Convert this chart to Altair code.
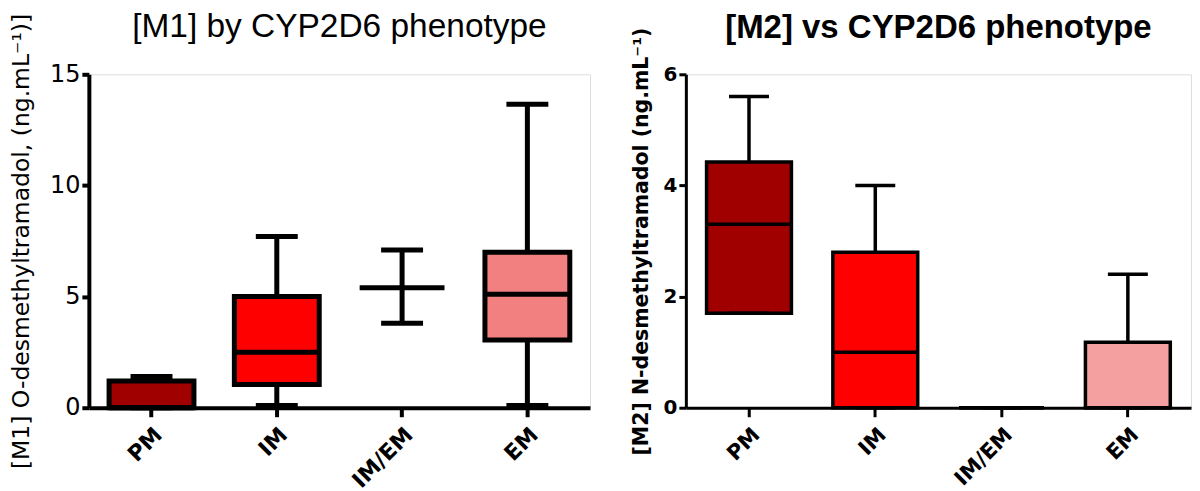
import altair as alt
import pandas as pd

categories = ["PM", "IM", "IM/EM", "EM"]

# [M1] O-desmethyltramadol box-plot statistics
m1_min = [0.0, 0.1, 3.8, 0.1]
m1_q1 = [0.0, 1.05, None, 3.05]
m1_median = [0.0, 2.5, 5.4, 5.1]
m1_q3 = [1.2, 5.0, None, 7.0]
m1_max = [1.4, 7.7, 7.1, 13.65]
m1_colors = ["#a00000", "#ff0000", "#ffffff", "#f28080"]

# [M2] N-desmethyltramadol box-plot statistics
m2_min = [1.7, 0.0, 0.0, 0.0]
m2_q1 = [1.7, 0.0, 0.0, 0.0]
m2_median = [3.3, 1.0, 0.0, 0.0]
m2_q3 = [4.42, 2.8, 0.0, 1.18]
m2_max = [5.6, 4.0, 0.0, 2.4]
m2_colors = ["#a00000", "#ff0000", "#c8c8c8", "#f5a0a0"]


def make_df(lo, q1, med, q3, hi, colors):
    return pd.DataFrame({"cat": categories, "lo": lo, "q1": q1, "med": med,
                         "q3": q3, "hi": hi, "color": colors})


def panel(df, ymax, yvals, title, title_font, title_weight, title_size, title_offset,
          ytitle, ytitle_font, ytitle_weight, ytitle_size, ylab_font, ylab_weight, ylab_size,
          width, height, sw, axw, box_w, cap_w, title_pad, label_pad, xlab_size):
    xenc = alt.X("cat:N", sort=categories,
                 scale=alt.Scale(domain=categories, paddingInner=0.3, paddingOuter=0.15),
                 axis=alt.Axis(title=None, labelAngle=-45, labelFont="DejaVu Sans",
                               labelFontWeight="bold", labelFontSize=xlab_size, labelColor="black",
                               domainColor="black", domainWidth=axw, tickColor="black",
                               tickWidth=axw, tickSize=9, labelPadding=7, grid=False))
    yscale = alt.Scale(domain=[0, ymax], nice=False)
    yaxis = alt.Axis(title=ytitle, values=yvals, format="d", grid=False, domainColor="black",
                     domainWidth=axw, tickColor="black", tickWidth=axw, tickSize=7,
                     labelFont=ylab_font, labelFontWeight=ylab_weight, labelFontSize=ylab_size,
                     labelColor="black", labelPadding=label_pad,
                     titleFont=ytitle_font, titleFontWeight=ytitle_weight,
                     titleFontSize=ytitle_size, titleColor="black", titlePadding=title_pad)
    base = alt.Chart(df).encode(x=xenc)
    whisker = base.mark_rule(color="black", strokeWidth=sw).encode(
        y=alt.Y("lo:Q", scale=yscale, axis=yaxis), y2="hi:Q")
    box = base.transform_filter("datum.q1 != null").mark_bar(
        size=box_w, stroke="black", strokeWidth=sw, opacity=1).encode(
        y=alt.Y("q1:Q", scale=yscale), y2="q3:Q", fill=alt.Fill("color:N", scale=None))
    median = base.mark_tick(size=box_w, thickness=sw, color="black", opacity=1).encode(
        y=alt.Y("med:Q", scale=yscale))
    cap_hi = base.mark_tick(size=cap_w, thickness=sw, color="black", opacity=1).encode(
        y=alt.Y("hi:Q", scale=yscale))
    cap_lo = base.mark_tick(size=cap_w, thickness=sw, color="black", opacity=1).encode(
        y=alt.Y("lo:Q", scale=yscale))
    return alt.layer(whisker, box, median, cap_hi, cap_lo).properties(
        width=width, height=height,
        title=alt.TitleParams(title, font=title_font, fontWeight=title_weight,
                              fontSize=title_size, color="black", anchor="middle",
                              frame="group", offset=title_offset))


left = panel(make_df(m1_min, m1_q1, m1_median, m1_q3, m1_max, m1_colors),
             15, [0, 5, 10, 15], "[M1] by CYP2D6 phenotype", "Liberation Sans", "normal", 33.5, -31,
             "[M1] O-desmethyltramadol, (ng.mL⁻¹)]", "DejaVu Sans", "normal", 23.5,
             "DejaVu Sans", "normal", 24,
             502, 334, 5, 4, 85, 42, 16, 2, 22)

right = panel(make_df(m2_min, m2_q1, m2_median, m2_q3, m2_max, m2_colors),
              6, [0, 2, 4, 6], "[M2] vs CYP2D6 phenotype", "Liberation Sans", "bold", 33, -18,
              "[M2] N-desmethyltramadol (ng.mL⁻¹)", "DejaVu Sans", "bold", 20.5,
              "DejaVu Sans", "bold", 20,
              506, 334, 3.5, 3, 85, 40, 12, 2, 21)

chart = alt.hconcat(left, right, spacing=96, bounds="flush").properties(
    padding={"left": 0, "top": 0, "right": 0, "bottom": 0}
).configure_view(stroke=None).configure(background="white")

chart.save("out.html", embed_options={"renderer": "svg", "actions": False})
